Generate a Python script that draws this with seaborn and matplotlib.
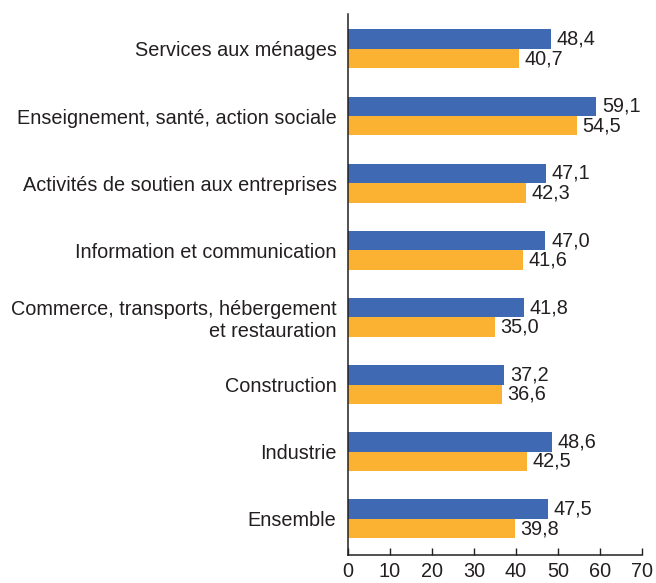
import pandas as pd
import matplotlib
matplotlib.use("Agg")
import matplotlib.pyplot as plt
import seaborn as sns

categories = [
    "Services aux ménages",
    "Enseignement, santé, action sociale",
    "Activités de soutien aux entreprises",
    "Information et communication",
    "Commerce, transports, hébergement\net restauration",
    "Construction",
    "Industrie",
    "Ensemble",
]
serie_a = [48.4, 59.1, 47.1, 47.0, 41.8, 37.2, 48.6, 47.5]
serie_b = [40.7, 54.5, 42.3, 41.6, 35.0, 36.6, 42.5, 39.8]
series_names = ["A", "B"]
x_ticks = [0, 10, 20, 30, 40, 50, 60, 70]

df = pd.DataFrame({
    "Secteur": categories * 2,
    "Valeur": serie_a + serie_b,
    "Serie": [series_names[0]] * len(categories) + [series_names[1]] * len(categories),
})

sns.set_style("white")
plt.rcParams["font.family"] = ["Liberation Sans", "DejaVu Sans"]

fig = plt.figure(figsize=(6.56, 5.83), dpi=100)
ax = fig.add_axes([0.530, 0.048, 0.449, 0.928])

sns.barplot(data=df, x="Valeur", y="Secteur", hue="Serie", order=categories,
            palette=["#3F69B2", "#FBB131"], width=0.58, saturation=1,
            linewidth=0, legend=False, ax=ax)

for cont in ax.containers:
    ax.bar_label(cont, labels=[f"{v:.1f}".replace(".", ",") for v in cont.datavalues],
                 padding=4, fontsize=14.3, color="#231F20")

ax.set_xlim(0, 70)
ax.set_ylim(7.54, -0.52)
ax.set_xticks(x_ticks)
ax.set_xlabel("")
ax.set_ylabel("")
ax.tick_params(axis="x", bottom=True, direction="in", length=5, width=1, labelsize=14.3,
               pad=5, colors="#231F20")
ax.tick_params(axis="y", left=False, length=0, labelsize=14.3, pad=8, labelcolor="#231F20")
for lab in ax.get_yticklabels():
    lab.set_horizontalalignment("right")
    lab.set_multialignment("right")

for side in ["top", "right"]:
    ax.spines[side].set_visible(False)
for side in ["left", "bottom"]:
    ax.spines[side].set_color("#231F20")
    ax.spines[side].set_linewidth(1.1)

fig.savefig("out.png", dpi=100)
